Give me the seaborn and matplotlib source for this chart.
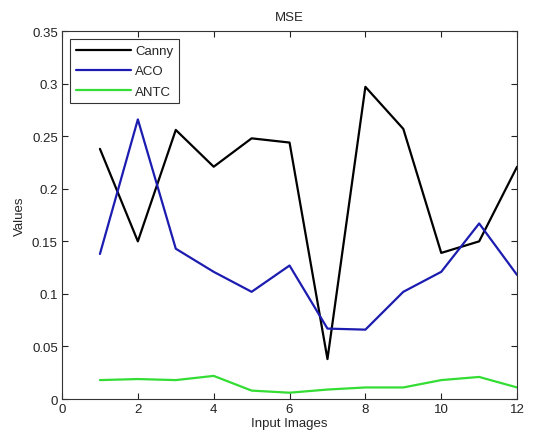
import pandas as pd
import matplotlib
matplotlib.use("Agg")
import matplotlib.pyplot as plt
import seaborn as sns

images = list(range(1, 13))
canny = [0.238, 0.150, 0.256, 0.221, 0.248, 0.244, 0.038, 0.297, 0.257, 0.139, 0.150, 0.221]
aco = [0.138, 0.266, 0.143, 0.121, 0.102, 0.127, 0.067, 0.066, 0.102, 0.121, 0.167, 0.118]
antc = [0.018, 0.019, 0.018, 0.022, 0.008, 0.006, 0.009, 0.011, 0.011, 0.018, 0.021, 0.011]

df = pd.DataFrame({
    "Input Images": images * 3,
    "Values": canny + aco + antc,
    "Method": ["Canny"] * 12 + ["ACO"] * 12 + ["ANTC"] * 12,
})

sns.set_style("ticks")
plt.rcParams["font.family"] = ["Liberation Sans", "DejaVu Sans"]

fig = plt.figure(figsize=(5.36, 4.39), dpi=100)
ax = fig.add_axes([0.1157, 0.0888, 0.849, 0.838])

palette = {"Canny": "#000000", "ACO": "#1c1cb0", "ANTC": "#33dd33"}
sns.lineplot(data=df, x="Input Images", y="Values", hue="Method",
             palette=palette, linewidth=1.6, ax=ax)

ax.set_xlim(0, 12)
ax.set_ylim(0, 0.35)
ax.set_xticks(range(0, 13, 2))
ax.set_yticks([0, 0.05, 0.1, 0.15, 0.2, 0.25, 0.3, 0.35])
ax.set_yticklabels(["0", "0.05", "0.1", "0.15", "0.2", "0.25", "0.3", "0.35"])
ax.tick_params(direction="in", top=True, right=True, labelsize=9.5,
               colors="#222222", length=4, pad=3)
for s in ax.spines.values():
    s.set_visible(True)
    s.set_color("#333333")
    s.set_linewidth(0.8)

ax.set_title("MSE", fontsize=9.5, pad=8)
ax.set_xlabel("Input Images", fontsize=9.5, labelpad=1)
ax.set_ylabel("Values", fontsize=9.5, labelpad=4)

leg = ax.legend(loc="upper left", fontsize=9.5, frameon=True, fancybox=False,
                edgecolor="black", handlelength=4.2, borderaxespad=0.6,
                labelspacing=0.6, borderpad=0.45, handletextpad=0.3)
leg.get_frame().set_linewidth(0.8)

fig.savefig("out.png", dpi=100)
